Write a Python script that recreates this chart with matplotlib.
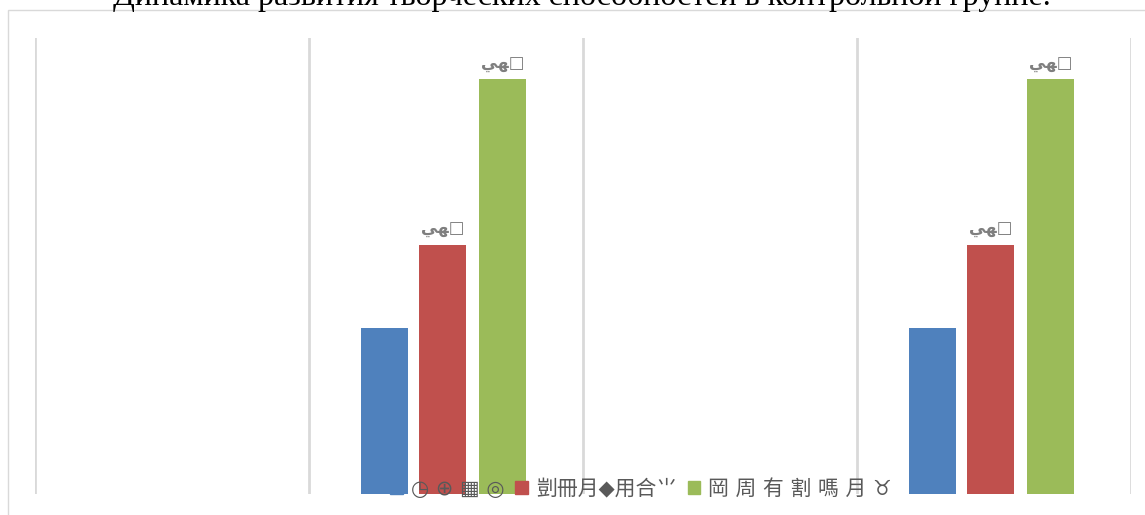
import matplotlib
matplotlib.use("Agg")
import matplotlib.pyplot as plt
import matplotlib.patches as mpatches
import numpy as np

# chart data
categories = ["1", "2", "3", "4"]
series_names = ["\u25f7 \u2295 \u25a6 \u25ce",
                "\u5274\u518a\u6708\u25c6\u7528\u5408\u2e8c",
                "\u5ca1 \u5468 \u6709 \u5272 \u55ce \u6708 \u2649"]
blue_vals = [0, 2, 0, 2]
red_vals = [0, 3, 0, 3]
green_vals = [0, 5, 0, 5]
value_text = "\ufef2\ufeec\u25a1"

colors = ["#4f81bd", "#c0504d", "#9bbb59"]
offsets = [-0.225, -0.012, 0.207]
bar_w = 0.1715

fig = plt.figure(figsize=(11.45, 5.15), dpi=100)
ax = fig.add_axes([35 / 1145, 21 / 515, (1131 - 35) / 1145, 456 / 515])

x = np.arange(1, len(categories) + 1)
all_vals = [blue_vals, red_vals, green_vals]
for i, vals in enumerate(all_vals):
    bars = ax.bar(x + offsets[i], vals, bar_w, color=colors[i], zorder=3)
    if i > 0:
        for b, v in zip(bars, vals):
            if v > 0:
                ax.annotate(value_text, (b.get_x() + b.get_width() / 2, v),
                            xytext=(0, 5), textcoords="offset points",
                            ha="center", va="bottom", fontsize=12,
                            fontweight="bold", color="#7f7f7f",
                            family=["DejaVu Sans"])

ax.set_xlim(0.5, 4.5)
ax.set_ylim(0, 5.5)
for b in np.arange(0.5, 4.6, 1.0):
    ax.axvline(b, color="#d9d9d9", lw=2, zorder=1)
ax.set_xticks([])
ax.set_yticks([])
for s in ax.spines.values():
    s.set_visible(False)

# outer chart frame
frame = mpatches.Rectangle((8 / 1145, -0.2), 1.2, (505 / 515) + 0.2,
                           transform=fig.transFigure, fill=False,
                           edgecolor="#d9d9d9", lw=1, clip_on=False)
fig.patches.append(frame)

fig.text(0.508, 1 - 5 / 515,
         "\u0414\u0438\u043d\u0430\u043c\u0438\u043a\u0430 \u0440\u0430\u0437\u0432\u0438\u0442\u0438\u044f \u0442\u0432\u043e\u0440\u0447\u0435\u0441\u043a\u0438\u0445 \u0441\u043f\u043e\u0441\u043e\u0431\u043d\u043e\u0441\u0442\u0435\u0439 \u0432 \u043a\u043e\u043d\u0442\u0440\u043e\u043b\u044c\u043d\u043e\u0439 \u0433\u0440\u0443\u043f\u043f\u0435.",
         ha="center", va="baseline", fontsize=23, family="Liberation Serif")

handles = [mpatches.Patch(color=c) for c in colors]
leg = fig.legend(handles, series_names, loc="center",
                 bbox_to_anchor=(0.56, 26 / 515), ncol=3, frameon=False,
                 handlelength=0.6, handleheight=0.6, handletextpad=0.4,
                 columnspacing=0.5, borderpad=0.2,
                 prop={"family": ["DejaVu Sans", "Noto Sans CJK SC"], "size": 15})
for t in leg.get_texts():
    t.set_color("#595959")

fig.savefig("out.png", dpi=100)
